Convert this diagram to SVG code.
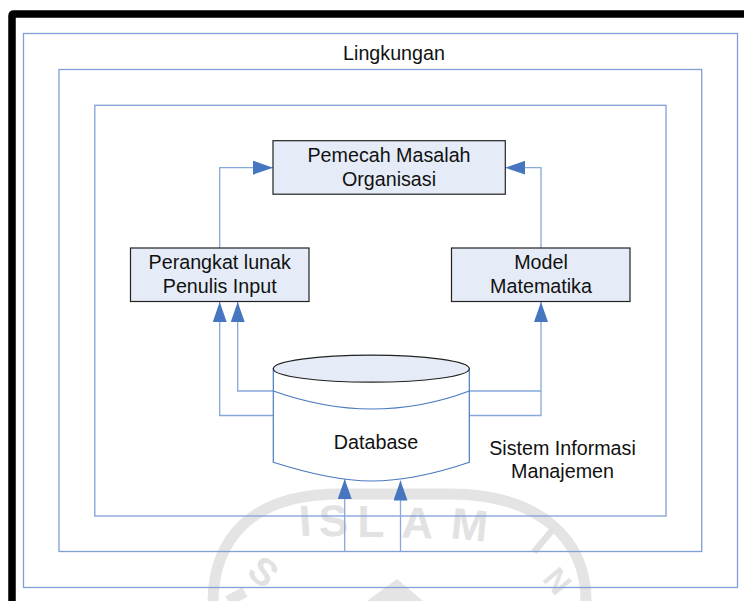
<svg xmlns="http://www.w3.org/2000/svg" width="744" height="601" viewBox="0 0 744 601">
<style>
text{font-family:"Liberation Sans",Arial,sans-serif;font-size:19.7px;fill:#111;text-anchor:middle}
.f{fill:none;stroke:#7f9fd6;stroke-width:1.3}
.b{fill:#e6ecf7;stroke:#222;stroke-width:1.2}
.c{fill:none;stroke:#86a8dc;stroke-width:1.3}
.d{fill:#fff;stroke:#4a7ac0;stroke-width:1.2}
.w{fill:none;stroke:#e4e4e4;stroke-width:11}
.wt{fill:#e2e2e2;font-weight:bold;font-size:44px}
</style>
<defs>
<marker id="a" markerUnits="userSpaceOnUse" markerWidth="20" markerHeight="14" refX="20" refY="7" orient="auto"><path d="M0 0L20 7L0 14Z" fill="#4576bf"/></marker>
</defs>
<rect width="744" height="601" fill="#fff"/>
<g id="watermark">
<path class="w" d="M213 601C214 540 250 494 340 494L450 494C540 494 586 540 586 601"/>
<path d="M397 579L367 601H423Z" fill="#e4e4e4"/>
<path class="w" d="M228 601L245 592"/>
<text class="wt" transform="translate(306 536) rotate(-4)">I</text>
<text class="wt" transform="translate(334 536) rotate(-2)">S</text>
<text class="wt" transform="translate(371 537)">L</text>
<text class="wt" transform="translate(417 538) rotate(2)">A</text>
<text class="wt" transform="translate(468 540) rotate(6)">M</text>
<text class="wt" transform="translate(534 552) rotate(40)">I</text>
<text class="wt" style="font-size:32px" transform="translate(549 588) rotate(50)">N</text>
<text class="wt" style="font-size:38px" transform="translate(255 582) rotate(40)">S</text>
</g>
<path d="M12 601V16Q12 14 14 14H744" fill="none" stroke="#000" stroke-width="7.500"/>
<g id="frame-lingkungan"><rect class="f" x="23.500" y="33.500" width="714" height="554"/><text x="394" y="60">Lingkungan</text></g>
<g id="frame-organisasi"><rect class="f" x="59" y="69.500" width="642.700" height="482"/></g>
<g id="frame-sim"><rect class="f" x="94.800" y="105.300" width="571.200" height="410.700"/><text x="562.500" y="455">Sistem Informasi</text><text x="562.500" y="478">Manajemen</text></g>
<g id="connectors">
<path class="c" d="M219.700 248V167.700H273" marker-end="url(#a)"/>
<path class="c" d="M541 248V167.700H505.300" marker-end="url(#a)"/>
<path class="c" d="M273 415.500H219.700V302" marker-end="url(#a)"/>
<path class="c" d="M273 391H237.700V302" marker-end="url(#a)"/>
<path class="c" d="M469 415.500H541V302" marker-end="url(#a)"/>
<path class="c" d="M469 391H541"/>
<path class="c" d="M344.700 552V479" marker-end="url(#a)"/>
<path class="c" d="M400.500 552V480.500" marker-end="url(#a)"/>
</g>
<g id="pemecah"><rect class="b" x="273" y="140.700" width="232.300" height="53.500"/><text x="389" y="162">Pemecah Masalah</text><text x="389" y="185.500">Organisasi</text></g>
<g id="perangkat"><rect class="b" x="130.500" y="248" width="178.500" height="53.500"/><text x="219.700" y="268.700">Perangkat lunak</text><text x="219.700" y="292.500">Penulis Input</text></g>
<g id="model"><rect class="b" x="451.500" y="248" width="178.500" height="53.500"/><text x="541" y="268.700">Model</text><text x="541" y="292.500">Matematika</text></g>
<g id="database">
<path class="d" d="M273.300 368.700V462.300C310 474 345 481 371.300 481C400 481 435 474 469.300 462.300V368.700Z"/>
<path class="d" style="fill:none" d="M273.300 391C310 404 345 409 371.300 409C400 409 435 404 469.300 391"/>
<ellipse cx="371.300" cy="368.700" rx="98" ry="13.500" fill="#e6ecf7" stroke="#222" stroke-width="1.200"/>
<text x="376" y="449">Database</text>
</g>
</svg>
